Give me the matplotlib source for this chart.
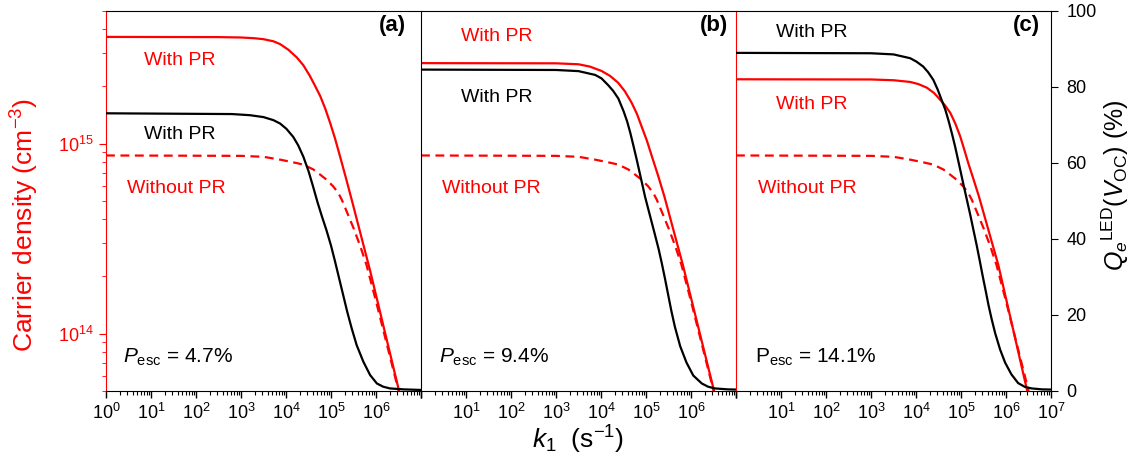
import numpy as np
import matplotlib
matplotlib.use("Agg")
import matplotlib.pyplot as plt
from matplotlib.ticker import LogLocator, NullFormatter

plt.rcParams['font.family'] = ['Liberation Sans', 'DejaVu Sans']
plt.rcParams['mathtext.fontset'] = 'custom'
plt.rcParams['mathtext.rm'] = 'Liberation Sans'
plt.rcParams['mathtext.it'] = 'Liberation Sans:italic'
plt.rcParams['mathtext.bf'] = 'Liberation Sans:bold'

RED = '#ff0000'

# carrier density without photon recycling (same in all panels): log10 k1, log10 n
logk_wo = [0, 3.0, 3.5, 3.87, 4.16, 4.385, 4.61, 4.76, 4.90, 5.05, 5.16, 5.24, 5.37, 5.50, 5.65, 5.79, 6.0, 6.5, 7.0]
logn_wo = [14.937, 14.935, 14.930, 14.915, 14.901, 14.889, 14.863, 14.836, 14.810, 14.774, 14.74, 14.704,
           14.63, 14.555, 14.46, 14.36, 14.17, 13.70, 13.2]

# panel (a), P_esc = 4.7 %
logk_a_n = [0, 2.5, 3.0, 3.3, 3.5, 3.72, 3.87, 4.05, 4.24, 4.385, 4.53, 4.64, 4.76, 4.87, 4.98, 5.09,
            5.2, 5.33, 5.46, 5.87, 6.5, 7.0]
logn_a = [15.561, 15.560, 15.558, 15.554, 15.549, 15.538, 15.523, 15.494, 15.453, 15.412, 15.356, 15.306,
          15.25, 15.185, 15.109, 15.026, 14.933, 14.82, 14.704, 14.33, 13.71, 13.21]
logk_a_q = [0, 2.8, 3.2, 3.5, 3.72, 3.87, 4.01, 4.16, 4.27, 4.385, 4.50, 4.60, 4.70, 4.80, 4.90, 5.0,
            5.09, 5.18, 5.27, 5.36, 5.46, 5.57, 5.72, 5.87, 6.02, 6.16, 6.31, 6.61, 7.0]
qe_a = [73.0, 72.8, 72.5, 72.0, 71.2, 70.3, 68.9, 66.8, 64.6, 61.6, 57.8, 53.8, 49.6, 45.8, 42.2, 38.2,
        34.0, 29.6, 25.2, 20.8, 16.4, 12.0, 7.6, 4.1, 1.9, 1.05, 0.6, 0.35, 0.2]

# panel (b), P_esc = 9.4 %
logk_b_n = [0, 3.0, 3.5, 3.75, 4.01, 4.2, 4.38, 4.53, 4.68, 4.8, 4.9, 5.02, 5.13, 5.27, 5.41, 5.82, 6.5, 7.0]
logn_b = [15.423, 15.422, 15.417, 15.405, 15.382, 15.356, 15.32, 15.275, 15.215, 15.155, 15.091, 15.015,
          14.933, 14.83, 14.72, 14.36, 13.71, 13.21]
logk_b_q = [0, 3.0, 3.5, 3.87, 4.01, 4.16, 4.27, 4.385, 4.50, 4.58, 4.65, 4.72, 4.79, 4.87, 4.98, 5.09,
            5.2, 5.28, 5.35, 5.42, 5.49, 5.56, 5.64, 5.76, 5.90, 6.05, 6.24, 6.38, 6.53, 6.82, 7.0]
qe_b = [84.5, 84.4, 84.1, 83.1, 82.2, 80.4, 78.9, 76.9, 73.6, 70.9, 67.9, 64.5, 61.0, 56.8, 51.0, 46.0,
        41.0, 37.3, 33.6, 29.6, 25.4, 21.2, 16.9, 11.7, 7.4, 4.0, 1.9, 1.05, 0.6, 0.35, 0.3]

# panel (c), P_esc = 14.1 %
logk_c_n = [0, 3.0, 3.5, 3.87, 4.05, 4.24, 4.4, 4.53, 4.65, 4.76, 4.87, 4.98, 5.07, 5.16, 5.28, 5.4,
            5.83, 6.46, 7.0]
logn_c = [15.338, 15.337, 15.333, 15.324, 15.313, 15.294, 15.266, 15.232, 15.199, 15.162, 15.107, 15.039,
          14.97, 14.898, 14.81, 14.72, 14.36, 13.71, 13.2]
logk_c_q = [0, 3.0, 3.5, 3.87, 4.01, 4.16, 4.27, 4.385, 4.48, 4.57, 4.65, 4.72, 4.80, 4.87, 4.98, 5.05,
            5.12, 5.2, 5.28, 5.35, 5.42, 5.48, 5.55, 5.61, 5.68, 5.76, 5.87, 5.98, 6.12, 6.27, 6.42, 6.57,
            6.8, 7.0]
qe_c = [88.9, 88.8, 88.5, 87.5, 86.6, 85.3, 83.8, 81.8, 79.3, 76.5, 74.0, 71.2, 67.6, 64.2, 58.3, 54.5,
        50.8, 46.6, 42.1, 38.2, 34.0, 30.3, 26.2, 22.6, 18.9, 15.1, 10.8, 7.4, 4.3, 2.0, 1.0, 0.6,
        0.35, 0.3]

panels = [
    ('(a)', r'$P_{\rm esc}$ = 4.7%', logk_a_n, logn_a, logk_a_q, qe_a),
    ('(b)', r'$P_{\rm esc}$ = 9.4%', logk_b_n, logn_b, logk_b_q, qe_b),
    ('(c)', r'P$_{\rm esc}$ = 14.1%', logk_c_n, logn_c, logk_c_q, qe_c),
]

# text positions (axes fraction): red "With PR", black "With PR", "Without PR", letter
label_pos = [
    dict(red=(0.235, 0.868), black=(0.235, 0.675), wo=(0.222, 0.533), letter=(0.908, 0.962), pesc=0.054),
    dict(red=(0.241, 0.933), black=(0.241, 0.772), wo=(0.222, 0.533), letter=(0.930, 0.960), pesc=0.057),
    dict(red=(0.241, 0.753), black=(0.241, 0.943), wo=(0.225, 0.533), letter=(0.921, 0.962), pesc=0.060),
]

xt_labels = [
    [r'$10^{%d}$' % i for i in range(7)] + [''],
    [''] + [r'$10^{%d}$' % i for i in range(1, 7)] + [''],
    [''] + [r'$10^{%d}$' % i for i in range(1, 8)],
]

fig = plt.figure(figsize=(11.38, 4.61), dpi=100)
W, H = 1138, 461
left, right, top, bottom = 106, 1051, 10.7, 390.7
pw = (right - left) / 3

for i, (letter, pesc, kn, n, kq, q) in enumerate(panels):
    ax = fig.add_axes([(left + i * pw) / W, 1 - bottom / H, pw / W, (bottom - top) / H])
    tw = ax.twinx()

    ax.plot(10.0 ** np.array(kn), 10.0 ** np.array(n), color=RED, lw=1.6)
    ax.plot(10.0 ** np.array(logk_wo), 10.0 ** np.array(logn_wo), color=RED, lw=1.6,
            dashes=(4, 2.5))
    tw.plot(10.0 ** np.array(kq), q, color='black', lw=1.6)

    ax.set_xscale('log')
    ax.set_yscale('log')
    ax.set_xlim(1, 1e7)
    ax.set_ylim(5e13, 5e15)
    tw.set_ylim(0, 100)

    ax.set_xticks(10.0 ** np.arange(8))
    ax.set_xticklabels(xt_labels[i])
    ax.xaxis.set_minor_locator(LogLocator(base=10, subs=np.arange(2, 10), numticks=20))
    ax.xaxis.set_minor_formatter(NullFormatter())
    ax.tick_params(axis='x', which='major', direction='out', length=5, width=1, labelsize=13, pad=4)
    ax.tick_params(axis='x', which='minor', direction='out', length=3, width=0.8)

    ax.spines['right'].set_visible(False)
    for s in tw.spines.values():
        s.set_visible(False)

    if i == 0:
        ax.set_yticks([1e14, 1e15])
        ax.set_yticklabels([r'$10^{14}$', r'$10^{15}$'])
        ax.yaxis.set_minor_locator(LogLocator(base=10, subs=np.arange(2, 10), numticks=20))
        ax.yaxis.set_minor_formatter(NullFormatter())
        ax.tick_params(axis='y', which='major', colors=RED, direction='out', length=5, labelsize=13)
        ax.tick_params(axis='y', which='minor', colors=RED, direction='out', length=3)
        ax.spines['left'].set_color(RED)
    else:
        ax.tick_params(axis='y', which='both', left=False, labelleft=False)
        ax.spines['left'].set_color(RED if i == 2 else 'black')

    if i == 2:
        tw.spines['right'].set_visible(True)
        tw.set_yticks([0, 20, 40, 60, 80, 100])
        tw.tick_params(axis='y', direction='out', length=5, labelsize=13, pad=6)
    else:
        tw.tick_params(axis='y', which='both', right=False, labelright=False)

    p = label_pos[i]
    ax.text(*p['red'], 'With PR', color=RED, fontsize=14, ha='center', va='center', transform=ax.transAxes)
    ax.text(*p['black'], 'With PR', color='black', fontsize=14, ha='center', va='center', transform=ax.transAxes)
    ax.text(*p['wo'], 'Without PR', color=RED, fontsize=14, ha='center', va='center', transform=ax.transAxes)
    ax.text(*p['letter'], letter, fontsize=16, fontweight='bold', ha='center', va='center',
            transform=ax.transAxes)
    ax.text(p['pesc'], 0.074, pesc, fontsize=15, ha='left', va='baseline', transform=ax.transAxes)

fig.text(25 / W, 1 - 225 / H, r'Carrier density (cm$^{-3}$)', color=RED, fontsize=19,
         rotation=90, ha='center', va='center')
fig.text(1115 / W, 1 - 185 / H, r'$Q_e{}^{\rm LED}(V_{\rm OC})$ (%)', fontsize=18,
         rotation=90, ha='center', va='center')
fig.text(578 / W, 1 - 440 / H, r'$k_1$  (s$^{-1}$)', fontsize=19, ha='center', va='center')

fig.savefig('out.png', dpi=100)
